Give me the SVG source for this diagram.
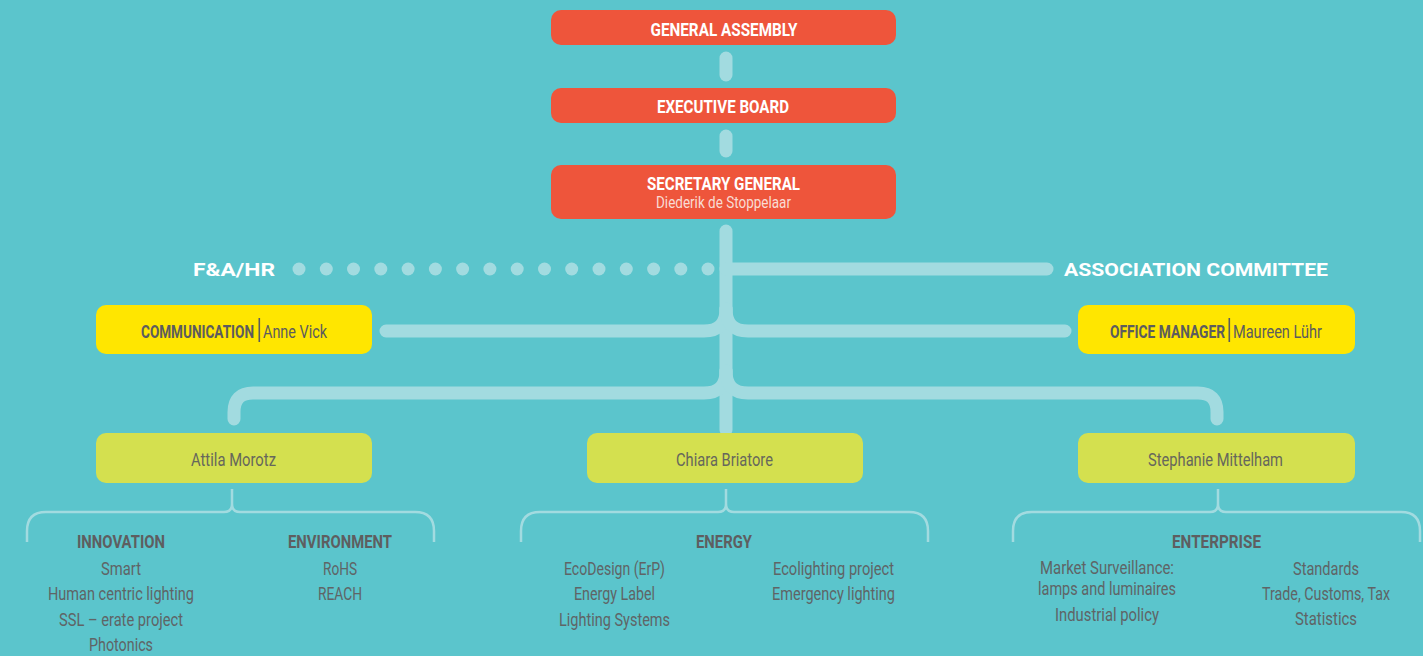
<svg xmlns="http://www.w3.org/2000/svg" width="1423" height="656" viewBox="0 0 1423 656">
<style>
.bg{fill:#5BC5CC}
.red{fill:#EE553B}
.yel{fill:#FFE600}
.grn{fill:#D4E04F}
.conn{fill:none;stroke:#A2DBE0;stroke-width:13;stroke-linecap:round;stroke-linejoin:round}
.brace{fill:none;stroke:#A2DBE0;stroke-width:2.5;stroke-linecap:butt}
.dot{fill:#A2DBE0}
text{font-family:Roboto,"Liberation Sans",sans-serif}
.wt{fill:#FFFFFF;font-weight:700;font-size:19px;text-anchor:middle}
.wsub{fill:#F9DCD4;font-size:16px;text-anchor:middle}
.side{fill:#FFFFFF;font-weight:700;font-size:18px}
.gb{fill:#5C5C5E;font-weight:700;font-size:18px}
.gr{fill:#5C5C5E;font-size:18px}
.name{fill:#66675C;font-size:18px;text-anchor:middle}
.hd{fill:#5E5E60;font-weight:700;font-size:18px;text-anchor:middle}
.it{fill:#5F6466;font-size:18px;text-anchor:middle}
.sep{stroke:#5C5C5E;stroke-width:1.6}
</style>
<rect class="bg" x="0" y="0" width="1423" height="656"/>

<g id="connectors">
  <line class="conn" x1="726" y1="58" x2="726" y2="75"/>
  <line class="conn" x1="726" y1="136" x2="726" y2="151"/>
  <path class="conn" d="M726 231 V430"/>
  <path class="conn" d="M726 269 H1047"/>
  <path class="conn" d="M386 331 H704 Q726 331 726 309"/>
  <path class="conn" d="M1065 331 H748 Q726 331 726 309"/>
  <path class="conn" d="M234 419 V412 Q234 393 253 393 H704 Q726 393 726 371"/>
  <path class="conn" d="M1217 419 V412 Q1217 393 1198 393 H748 Q726 393 726 371"/>
  <g id="fa-dots">
    <circle class="dot" cx="299" cy="269" r="6.5"/>
    <circle class="dot" cx="326.3" cy="269" r="6.5"/>
    <circle class="dot" cx="353.5" cy="269" r="6.5"/>
    <circle class="dot" cx="380.8" cy="269" r="6.5"/>
    <circle class="dot" cx="408.1" cy="269" r="6.5"/>
    <circle class="dot" cx="435.4" cy="269" r="6.5"/>
    <circle class="dot" cx="462.6" cy="269" r="6.5"/>
    <circle class="dot" cx="489.9" cy="269" r="6.5"/>
    <circle class="dot" cx="517.2" cy="269" r="6.5"/>
    <circle class="dot" cx="544.5" cy="269" r="6.5"/>
    <circle class="dot" cx="571.7" cy="269" r="6.5"/>
    <circle class="dot" cx="599" cy="269" r="6.5"/>
    <circle class="dot" cx="626.3" cy="269" r="6.5"/>
    <circle class="dot" cx="653.6" cy="269" r="6.5"/>
    <circle class="dot" cx="680.8" cy="269" r="6.5"/>
    <circle class="dot" cx="708" cy="269" r="6.5"/>
  </g>
  <path class="brace" d="M27 542 V531 Q27 512 46 512 H224 Q232 512 232 504 V489 M232 504 Q232 512 240 512 H415 Q434 512 434 531 V542"/>
  <path class="brace" d="M521 542 V531 Q521 512 540 512 H718 Q726 512 726 504 V489 M726 504 Q726 512 734 512 H909 Q928 512 928 531 V542"/>
  <path class="brace" d="M1013 542 V531 Q1013 512 1032 512 H1210 Q1218 512 1218 504 V489 M1218 504 Q1218 512 1226 512 H1401 Q1420 512 1420 531 V542"/>
</g>

<g id="general-assembly">
  <rect class="red" x="551" y="10" width="345" height="35" rx="10"/>
  <text class="wt" x="724" y="35.5" textLength="147" lengthAdjust="spacingAndGlyphs">GENERAL ASSEMBLY</text>
</g>
<g id="executive-board">
  <rect class="red" x="551" y="88" width="345" height="35" rx="10"/>
  <text class="wt" x="723" y="113" textLength="132" lengthAdjust="spacingAndGlyphs">EXECUTIVE BOARD</text>
</g>
<g id="secretary-general">
  <rect class="red" x="551" y="165" width="345" height="54" rx="10"/>
  <text class="wt" x="723.5" y="190" textLength="153" lengthAdjust="spacingAndGlyphs">SECRETARY GENERAL</text>
  <text class="wsub" x="723.5" y="208" textLength="135" lengthAdjust="spacingAndGlyphs">Diederik de Stoppelaar</text>
</g>

<g id="fa-hr">
  <text class="side" x="193" y="276" textLength="82" lengthAdjust="spacingAndGlyphs">F&amp;A/HR</text>
</g>
<g id="association-committee">
  <text class="side" x="1064" y="276" textLength="264" lengthAdjust="spacingAndGlyphs">ASSOCIATION COMMITTEE</text>
</g>

<g id="communication">
  <rect class="yel" x="96" y="305" width="276" height="49" rx="10"/>
  <text class="gb" transform="translate(141 338.3) scale(0.7 1)" x="0" y="0" textLength="161.4" lengthAdjust="spacingAndGlyphs">COMMUNICATION</text>
  <line class="sep" x1="259.3" y1="318" x2="259.3" y2="342"/>
  <text class="gr" transform="translate(263 338.3) scale(0.7 1)" x="0" y="0" textLength="91.4" lengthAdjust="spacingAndGlyphs">Anne Vick</text>
</g>
<g id="office-manager">
  <rect class="yel" x="1078" y="305" width="277" height="49" rx="10"/>
  <text class="gb" transform="translate(1110 338.3) scale(0.7 1)" x="0" y="0" textLength="164.3" lengthAdjust="spacingAndGlyphs">OFFICE MANAGER</text>
  <line class="sep" x1="1229.3" y1="318" x2="1229.3" y2="342"/>
  <text class="gr" transform="translate(1233 338.3) scale(0.7 1)" x="0" y="0" textLength="127.1" lengthAdjust="spacingAndGlyphs">Maureen Lühr</text>
</g>

<g id="attila-morotz">
  <rect class="grn" x="96" y="433" width="276" height="50" rx="10"/>
  <text class="name" x="233.5" y="465.5" textLength="85" lengthAdjust="spacingAndGlyphs">Attila Morotz</text>
</g>
<g id="chiara-briatore">
  <rect class="grn" x="587" y="433" width="276" height="50" rx="10"/>
  <text class="name" x="724.5" y="465.5" textLength="97" lengthAdjust="spacingAndGlyphs">Chiara Briatore</text>
</g>
<g id="stephanie-mittelham">
  <rect class="grn" x="1078" y="433" width="277" height="50" rx="10"/>
  <text class="name" x="1215.5" y="465.5" textLength="135" lengthAdjust="spacingAndGlyphs">Stephanie Mittelham</text>
</g>

<g id="innovation">
  <text class="hd" x="121" y="548" textLength="88" lengthAdjust="spacingAndGlyphs">INNOVATION</text>
  <text class="it" x="121" y="575" textLength="40" lengthAdjust="spacingAndGlyphs">Smart</text>
  <text class="it" x="121" y="600" textLength="146" lengthAdjust="spacingAndGlyphs">Human centric lighting</text>
  <text class="it" x="121" y="625.5" textLength="124" lengthAdjust="spacingAndGlyphs">SSL – erate project</text>
  <text class="it" x="121" y="651" textLength="64" lengthAdjust="spacingAndGlyphs">Photonics</text>
</g>
<g id="environment">
  <text class="hd" x="340" y="548" textLength="104" lengthAdjust="spacingAndGlyphs">ENVIRONMENT</text>
  <text class="it" x="340" y="575" textLength="34" lengthAdjust="spacingAndGlyphs">RoHS</text>
  <text class="it" x="340" y="600" textLength="44" lengthAdjust="spacingAndGlyphs">REACH</text>
</g>
<g id="energy">
  <text class="hd" x="724" y="548" textLength="56" lengthAdjust="spacingAndGlyphs">ENERGY</text>
  <text class="it" x="614.5" y="575" textLength="101" lengthAdjust="spacingAndGlyphs">EcoDesign (ErP)</text>
  <text class="it" x="614.5" y="600" textLength="81" lengthAdjust="spacingAndGlyphs">Energy Label</text>
  <text class="it" x="614.5" y="625.5" textLength="111" lengthAdjust="spacingAndGlyphs">Lighting Systems</text>
  <text class="it" x="833.5" y="575" textLength="121" lengthAdjust="spacingAndGlyphs">Ecolighting project</text>
  <text class="it" x="833.5" y="600" textLength="123" lengthAdjust="spacingAndGlyphs">Emergency lighting</text>
</g>
<g id="enterprise">
  <text class="hd" x="1216.5" y="548" textLength="89" lengthAdjust="spacingAndGlyphs">ENTERPRISE</text>
  <text class="it" x="1107" y="574" textLength="134" lengthAdjust="spacingAndGlyphs">Market Surveillance:</text>
  <text class="it" x="1107" y="595" textLength="138" lengthAdjust="spacingAndGlyphs">lamps and luminaires</text>
  <text class="it" x="1107" y="621" textLength="104" lengthAdjust="spacingAndGlyphs">Industrial policy</text>
  <text class="it" x="1326" y="574.5" textLength="66" lengthAdjust="spacingAndGlyphs">Standards</text>
  <text class="it" x="1326" y="599.5" textLength="128" lengthAdjust="spacingAndGlyphs">Trade, Customs, Tax</text>
  <text class="it" x="1326" y="625" textLength="62" lengthAdjust="spacingAndGlyphs">Statistics</text>
</g>
</svg>
